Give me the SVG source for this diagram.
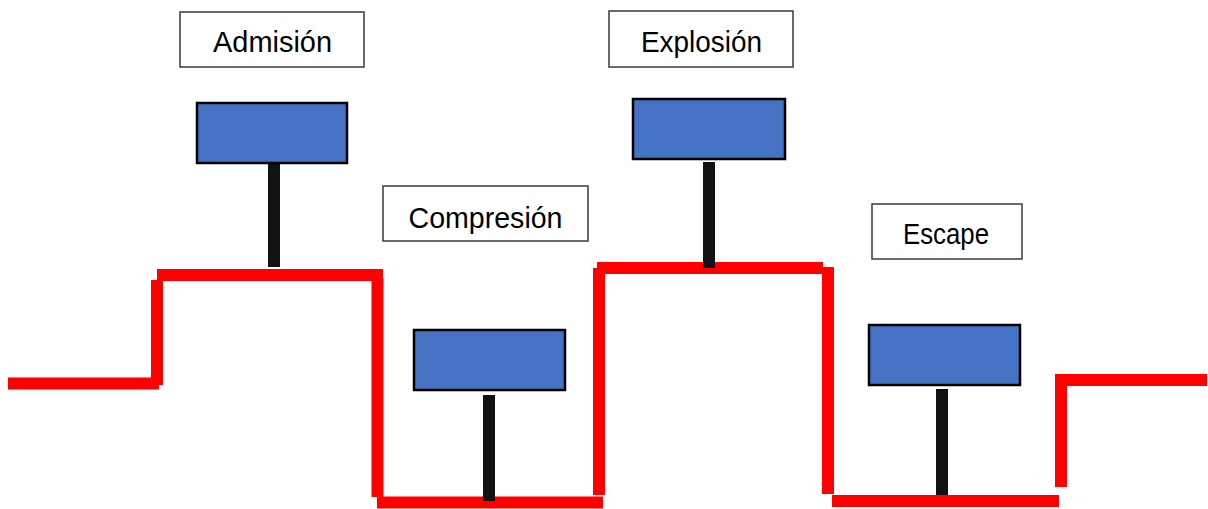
<svg xmlns="http://www.w3.org/2000/svg" width="1208" height="509" viewBox="0 0 1208 509">
<style>
.red{stroke:#FF0000;stroke-width:12;fill:none}
.stick{stroke:#111111;stroke-width:12}
.piston{fill:#4472C4;stroke:#000000;stroke-width:2.5}
.label{fill:#FFFFFF;stroke:#3A3A3A;stroke-width:1.5}
.txt{font-family:"Liberation Sans",Arial,sans-serif;font-size:29px;fill:#000000;text-anchor:middle}
</style>
<rect width="1208" height="509" fill="#FFFFFF"/>
<g id="red-line">
<line class="red" x1="8" y1="383.5" x2="159" y2="383.5"/>
<line class="red" x1="157" y1="280" x2="157" y2="385"/>
<line class="red" x1="157" y1="275" x2="383" y2="275"/>
<line class="red" x1="377.5" y1="278" x2="377.5" y2="497"/>
<line class="red" x1="377" y1="502.5" x2="603" y2="502.5"/>
<line class="red" x1="599" y1="268" x2="599" y2="495"/>
<line class="red" x1="597" y1="268" x2="823" y2="268"/>
<line class="red" x1="828" y1="267" x2="828" y2="494"/>
<line class="red" x1="832" y1="501" x2="1059" y2="501"/>
<line class="red" x1="1061" y1="374" x2="1061" y2="487"/>
<line class="red" x1="1055" y1="380" x2="1207" y2="380"/>
</g>
<g id="connectors">
<line class="stick" x1="274" y1="163" x2="274" y2="267"/>
<line class="stick" x1="489" y1="395" x2="489" y2="501"/>
<line class="stick" x1="709" y1="162" x2="709" y2="268"/>
<line class="stick" x1="942" y1="389" x2="942" y2="495"/>
</g>
<g id="piston-admision"><rect class="piston" x="197" y="103" width="150" height="60"/></g>
<g id="piston-compresion"><rect class="piston" x="414" y="330" width="151" height="60"/></g>
<g id="piston-explosion"><rect class="piston" x="633" y="99" width="152" height="60"/></g>
<g id="piston-escape"><rect class="piston" x="869" y="325" width="151" height="60"/></g>
<g id="label-admision"><rect class="label" x="180" y="12" width="184" height="55"/><text class="txt" x="272.5" y="52" textLength="119" lengthAdjust="spacingAndGlyphs">Admisión</text></g>
<g id="label-compresion"><rect class="label" x="383" y="186" width="205" height="55"/><text class="txt" x="485.5" y="228" textLength="154" lengthAdjust="spacingAndGlyphs">Compresión</text></g>
<g id="label-explosion"><rect class="label" x="609" y="11" width="184" height="56"/><text class="txt" x="701.5" y="52" textLength="121" lengthAdjust="spacingAndGlyphs">Explosión</text></g>
<g id="label-escape"><rect class="label" x="872" y="204" width="150" height="55"/><text class="txt" x="946" y="244" textLength="86" lengthAdjust="spacingAndGlyphs">Escape</text></g>
</svg>
